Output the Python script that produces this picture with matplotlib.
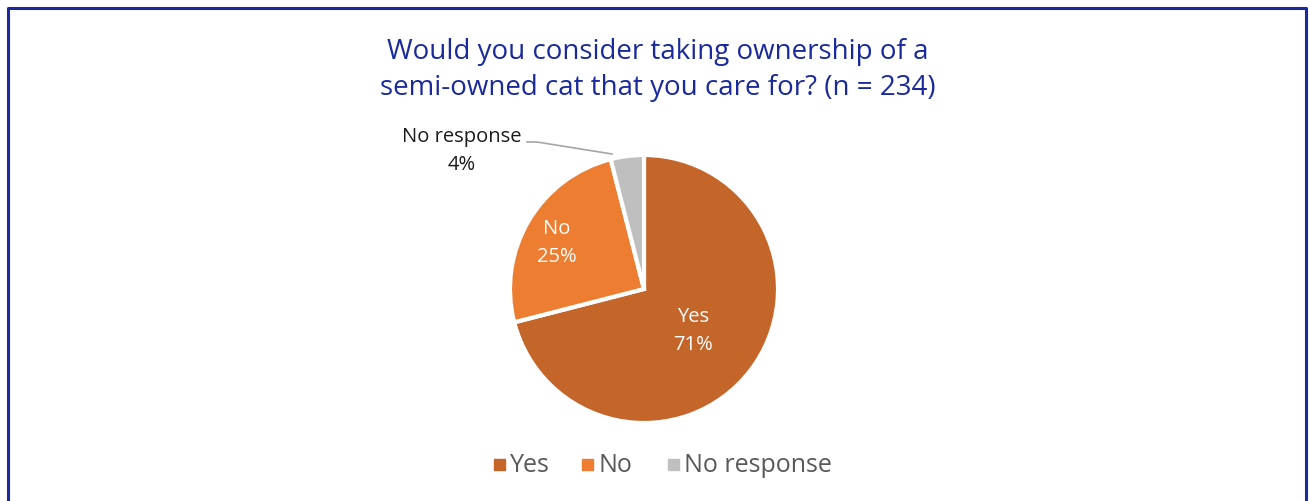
import matplotlib.pyplot as plt
from matplotlib.patches import Rectangle

# -------------------------------------------------
# Data
# -------------------------------------------------

labels = ["Yes", "No", "No response"]
shares = [71, 25, 4]
colors = ["#C4652A", "#ED7D31", "#BFBFBF"]

title = "Would you consider taking ownership of a\nsemi-owned cat that you care for? (n = 234)"

plt.rcParams["font.family"] = ["Open Sans", "DejaVu Sans"]

W, H = 1309, 502
fig = plt.figure(figsize=(W / 100, H / 100), dpi=100)
ax = fig.add_axes([0, 0, 1, 1])

# frame (no bottom edge, it runs off the picture)
ax.plot([8, 8, 1306, 1306], [-5, H - 9, H - 9, -5], color="#1A2A9C", linewidth=2.2)

ax.text(658, H - 70, title, ha="center", va="center", fontsize=20,
        color="#1A2A9C", linespacing=1.35)

cx, cy, r = 644, H - 290, 134
ax.pie(
    shares,
    colors=colors,
    startangle=90,
    counterclock=False,
    center=(cx, cy),
    radius=r,
    wedgeprops=dict(edgecolor="white", linewidth=3),
    frame=True,
)
ax.set_xlim(0, W)
ax.set_ylim(0, H)
ax.set_aspect("equal")
ax.axis("off")

# labels inside slices
ax.text(693, H - 331, f"{labels[0]}\n{shares[0]}%", ha="center", va="center",
        fontsize=14.5, color="white", linespacing=1.55)
ax.text(557, H - 243, f"{labels[1]}\n{shares[1]}%", ha="center", va="center",
        fontsize=14.5, color="white", linespacing=1.55)
ax.text(462, H - 151, f"{labels[2]}\n{shares[2]}%", ha="center", va="center",
        fontsize=14.5, color="#1A1A1A", linespacing=1.55)
ax.plot([527, 537, 612], [H - 143, H - 143, H - 155], color="#A6A6A6", linewidth=1.2)

# legend
leg_x = [494, 582, 668]
for x, lab, c in zip(leg_x, labels, colors):
    ax.add_patch(Rectangle((x, H - 471), 11, 11, color=c))
    ax.text(x + 16, H - 466, lab, ha="left", va="center", fontsize=18, color="#595959")

plt.savefig("out.png", dpi=100)
